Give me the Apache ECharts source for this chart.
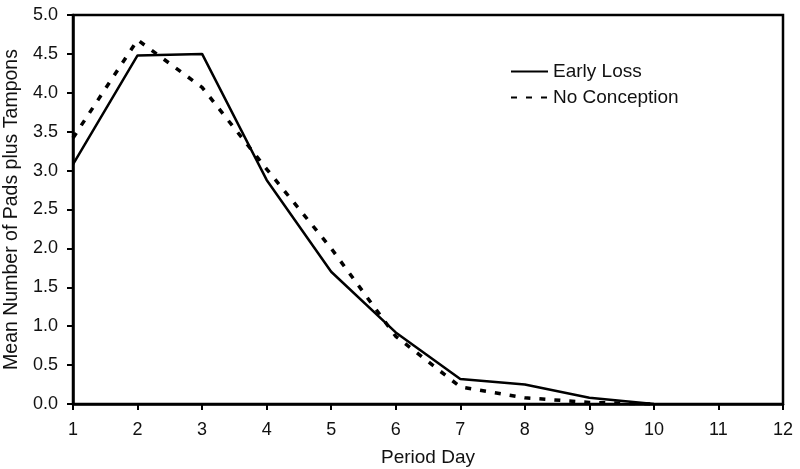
<!DOCTYPE html>
<html><head><meta charset="utf-8">
<script src="https://cdn.jsdelivr.net/npm/echarts@6/dist/echarts.min.js"></script>
<style>html,body{margin:0;padding:0;background:#fff}#c{width:800px;height:469px}</style>
</head><body><div id="c"></div>
<script>
const days = [1,2,3,4,5,6,7,8,9,10];
const earlyLoss = [3.08,4.48,4.50,2.88,1.70,0.92,0.32,0.25,0.08,0.0];
const noConception = [3.42,4.68,4.07,3.02,2.00,0.87,0.22,0.08,0.02,0.0];
const seriesNames = ['Early Loss','No Conception'];
const xTitle = 'Period Day';
const yTitle = 'Mean Number of Pads plus Tampons';

const chart = echarts.init(document.getElementById('c'));
const font = 'Liberation Sans, Arial, sans-serif';
chart.setOption({
  animation:false,
  grid:{left:73,right:17,top:15,bottom:65,show:true,borderColor:'#000',borderWidth:2.5,
        containLabel:false,outerBoundsMode:'none'},
  legend:{
    show:true, left:505, top:57, orient:'vertical', itemGap:7,
    itemWidth:37, itemHeight:14,
    textStyle:{fontFamily:font,fontSize:19,color:'#111'},
    itemStyle:{opacity:0},
    data:seriesNames
  },
  xAxis:{
    type:'value', min:1, max:12, interval:1,
    name:xTitle, nameLocation:'middle', nameGap:44,
    nameTextStyle:{fontFamily:font,fontSize:19,color:'#111'},
    axisLine:{lineStyle:{color:'#000',width:2.5}},
    axisTick:{show:true,inside:false,length:6,lineStyle:{color:'#000',width:2}},
    axisLabel:{fontFamily:font,fontSize:18,color:'#111',margin:17},
    splitLine:{show:false}
  },
  yAxis:{
    type:'value', min:0, max:5, interval:0.5,
    name:yTitle, nameLocation:'middle', nameGap:46,
    nameTextStyle:{fontFamily:font,fontSize:19.5,color:'#111'},
    axisLine:{show:true,lineStyle:{color:'#000',width:2.5}},
    axisTick:{show:true,inside:false,length:6,lineStyle:{color:'#000',width:2}},
    axisLabel:{fontFamily:font,fontSize:18,color:'#111',margin:15,formatter:v=>v.toFixed(1)},
    splitLine:{show:false}
  },
  series:[
    {name:seriesNames[0],type:'line',data:days.map((d,i)=>[d,earlyLoss[i]]),
     symbol:'none',lineStyle:{color:'#000',width:2.5,type:'solid'},itemStyle:{color:'#000'}},
    {name:seriesNames[1],type:'line',data:days.map((d,i)=>[d,noConception[i]]),
     symbol:'none',lineStyle:{color:'#000',width:3.5,type:[6,9]},itemStyle:{color:'#000'}}
  ]
});
</script></body></html>
